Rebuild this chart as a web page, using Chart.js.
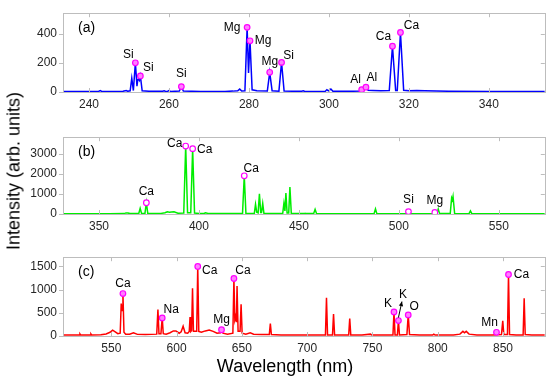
<!DOCTYPE html>
<html>
<head>
<meta charset="utf-8">
<script src="https://cdn.jsdelivr.net/npm/chart.js@4.4.1/dist/chart.umd.min.js"></script>
<style>
  body { margin: 0; background: #fff; }
  #wrap { position: relative; width: 550px; height: 380px; overflow: hidden; font-family: "Liberation Sans", Arial, sans-serif; }
  canvas { position: absolute; left: 0; }
  .title { position: absolute; color: #000; white-space: nowrap; font-size: 18px; }
</style>
</head>
<body>
<div id="wrap">
  <canvas id="panelA" width="550" height="112" style="top:0px"></canvas>
  <canvas id="panelB" width="550" height="110" style="top:124px"></canvas>
  <canvas id="panelC" width="550" height="112" style="top:244px"></canvas>
  <div class="title" id="yTitle" style="left:14px; top:171px; transform:translate(-50%,-50%) rotate(-90deg);">Intensity (arb. units)</div>
  <div class="title" id="xTitle" style="left:285px; top:366px; transform:translate(-50%,-50%);">Wavelength (nm)</div>
</div>
<script>

// panel (a) spectrum
const wlA = [233.5, 240, 242.4, 242.8, 243.2, 248.5, 249.3, 249.7, 250.3, 250.7,
    251.1, 251.6, 252.0, 252.2, 252.4, 252.6, 252.85, 253.3, 255, 258.4,
    258.8, 259.2, 259.7, 260.0, 260.4, 262.6, 263.1, 263.6, 268, 274,
    276, 277.2, 277.7, 278.2, 279.0, 279.55, 279.9, 280.27, 280.8, 282,
    284.6, 285.2, 285.8, 287.5, 288.16, 288.8, 291, 293.2, 293.6, 294,
    299.1, 299.5, 299.9, 300.5, 301, 306, 307.8, 308.2, 308.7, 309.27,
    309.8, 311, 313, 315.1, 315.9, 316.7, 317.1, 317.9, 318.7, 320,
    322, 324, 330, 340, 354];
const intA = [4, 4, 4, 10, 4, 5, 10, 5, 8, 95,
    10, 200, 40, 85, 90, 80, 110, 8, 5, 5,
    8, 4, 5, 9, 4, 6, 37, 6, 4, 4,
    6, 8, 20, 7, 8, 443, 130, 351, 15, 8,
    7, 135, 8, 6, 203, 7, 5, 5, 8, 4,
    5, 15, 8, 20, 5, 5, 7, 16, 10, 33,
    12, 11, 9, 10, 314, 10, 10, 408, 12, 8,
    10, 8, 5, 4, 4];
const peakWlA = [251.6, 252.85, 263.1, 279.55, 280.27, 285.2, 288.16, 308.2, 309.27, 315.9, 317.9];
const peakIntA = [200, 110, 37, 443, 351, 135, 203, 16, 33, 314, 408];
const peakNameA = ["Si", "Si", "Si", "Mg", "Mg", "Mg", "Si", "Al", "Al", "Ca", "Ca"];
const xTicksA = [240, 260, 280, 300, 320, 340];
const yTicksA = [0, 200, 400];

// panel (b) spectrum
const wlB = [332, 355, 362.5, 363.5, 364.5, 365.5, 369.9, 370.6, 371.3, 373.0,
    373.7, 374.4, 377, 381, 383, 384.2, 385.2, 386.3, 387.5, 389.5,
    392.4, 393.37, 394.3, 395.9, 396.85, 397.8, 400, 402.5, 403.3, 404.5,
    410, 421.8, 422.67, 423.5, 427.7, 428.3, 428.9, 429.6, 430.25, 430.9,
    431.3, 431.9, 432.5, 436, 441.9, 442.5, 443.0, 443.5, 444.1, 444.9,
    445.5, 446.2, 450, 452.6, 453.1, 453.6, 457.4, 458.1, 458.8, 465,
    487.6, 488.3, 489.0, 500, 510, 519.0, 519.7, 520.4, 525.7, 526.4,
    526.8, 527.1, 527.9, 535.1, 535.8, 536.5, 545, 573];
const intB = [15, 15, 20, 55, 45, 20, 25, 280, 30, 35,
    560, 35, 20, 30, 60, 110, 90, 105, 110, 40,
    45, 3380, 60, 60, 3250, 50, 25, 25, 60, 25,
    20, 25, 1900, 25, 30, 480, 90, 60, 1000, 70,
    70, 520, 30, 20, 30, 525, 150, 1040, 50, 50,
    1340, 30, 20, 20, 40, 20, 25, 230, 25, 15,
    15, 250, 15, 15, 15, 20, 250, 20, 25, 800,
    700, 870, 25, 15, 150, 15, 15, 15];
const peakWlB = [373.7, 393.37, 396.85, 422.67, 504.8, 518.0];
const peakIntB = [560, 3380, 3250, 1900, 120, 80];
const peakNameB = ["Ca", "Ca", "Ca", "Ca", "Si", "Mg"];
const xTicksB = [350, 400, 450, 500, 550];
const yTicksB = [0, 1000, 2000, 3000];

// panel (c) spectrum
const wlC = [513, 520, 525.4, 526, 526.6, 533.8, 534.4, 535, 542, 546,
    549, 551, 553, 555, 556.8, 557.6, 558.2, 558.9, 559.7, 561,
    564, 567, 570, 576, 584.8, 585.7, 586.5, 588.0, 588.99, 589.8,
    592, 595, 597.5, 599.5, 602, 603.5, 605, 606.5, 608.5, 609.7,
    610.3, 610.9, 611.5, 612.2, 612.9, 615.4, 616.2, 617.0, 619, 622,
    625, 628, 631, 633.5, 634.4, 635.5, 639, 643.1, 643.9, 644.6,
    645.2, 645.8, 646.3, 647.1, 648.6, 649.4, 650.2, 653, 656.4, 659,
    665, 671.0, 671.8, 672.6, 680, 700, 714.0, 714.8, 715.6, 719.4,
    720.2, 721.0, 731.8, 732.6, 733.4, 742, 748.5, 749.5, 758, 765.7,
    766.5, 767.3, 769.1, 769.9, 770.7, 776.4, 777.4, 778.4, 786, 796,
    797, 798, 812, 817, 819.3, 820.5, 821.8, 824, 830, 842,
    848.8, 849.8, 850.6, 853.4, 854.2, 855.0, 860, 865.4, 866.2, 867.0,
    872, 882];
const intC = [20, 20, 20, 45, 20, 20, 45, 20, 25, 45,
    80, 125, 90, 50, 60, 700, 550, 916, 80, 40,
    40, 70, 35, 30, 40, 570, 50, 50, 390, 50,
    40, 70, 110, 110, 60, 90, 210, 70, 60, 100,
    410, 100, 120, 1030, 100, 100, 1500, 100, 80, 110,
    130, 100, 60, 70, 135, 60, 40, 60, 1240, 350,
    420, 300, 1080, 100, 100, 685, 60, 40, 70, 40,
    30, 30, 270, 30, 20, 20, 20, 827, 20, 20,
    473, 20, 20, 377, 20, 20, 40, 20, 20, 20,
    520, 20, 20, 333, 20, 30, 455, 30, 20, 20,
    40, 20, 20, 40, 100, 70, 100, 40, 20, 20,
    30, 327, 30, 30, 1327, 30, 20, 20, 813, 30,
    20, 20];
const peakWlC = [558.9, 588.99, 616.2, 634.4, 643.9, 766.5, 769.9, 777.4, 845, 854.2];
const peakIntC = [916, 390, 1500, 135, 1240, 520, 333, 455, 80, 1327];
const peakNameC = ["Ca", "Na", "Ca", "Mg", "Ca", "K", "K", "O", "Mn", "Ca"];
const xTicksC = [550, 600, 650, 700, 750, 800, 850];
const yTicksC = [0, 500, 1000, 1500];

// label placement (pixel offsets from marker centre)
const offsetsA = [[-7, -8], [8, -8], [0, -13], [-15, 0], [13, 0], [0, -11], [7, -7], [-6, -10], [6, -9], [-9, -9], [11, -7]];
const offsetsB = [[0, -11], [-11, -2], [12, 1], [7, -7], [0, -12], [0, -12]];
const offsetsC = [[0, -10], [9, -8], [12, 4], [0, -10], [9, -8], [-6, -8], [4.5, -26], [6, -8], [-7, -10], [13, 0]];

const fontFam = "'Liberation Sans', Arial, sans-serif";
const boxColor = "#bdbdbd";

const decoPlugin = {
    id: "deco",
    afterDatasetsDraw(chart, args, opts) {
        const ctx = chart.ctx;
        const a = chart.chartArea;
        const xs = chart.scales.x;
        const ys = chart.scales.y;

        ctx.save();

        // box and tick marks
        ctx.strokeStyle = boxColor;
        ctx.lineWidth = 1;
        ctx.strokeRect(Math.round(a.left) + 0.5, Math.round(a.top) + 0.5,
            Math.round(a.right - a.left), Math.round(a.bottom - a.top));

        ctx.beginPath();
        xs.ticks.forEach(t => {
            const px = Math.round(xs.getPixelForValue(t.value)) + 0.5;
            ctx.moveTo(px, a.bottom);
            ctx.lineTo(px, a.bottom - 4);
            ctx.moveTo(px, a.top);
            ctx.lineTo(px, a.top + 4);
        });
        ys.ticks.forEach(t => {
            const py = Math.round(ys.getPixelForValue(t.value)) + 0.5;
            ctx.moveTo(a.left, py);
            ctx.lineTo(a.left - 4, py);
            ctx.moveTo(a.right, py);
            ctx.lineTo(a.right - 4, py);
        });
        ctx.stroke();

        // panel tag
        ctx.fillStyle = "#000";
        ctx.font = "14px " + fontFam;
        ctx.textAlign = "left";
        ctx.textBaseline = "middle";
        ctx.fillText(opts.tag, a.left + 15, a.top + 15);

        // peak names
        ctx.font = "12px " + fontFam;
        ctx.textAlign = "center";
        opts.names.forEach((n, i) => {
            const px = xs.getPixelForValue(opts.wl[i]);
            const py = ys.getPixelForValue(opts.val[i]);
            ctx.fillText(n, px + opts.offsets[i][0], py + opts.offsets[i][1]);
        });

        // arrow to a label
        if (opts.arrow !== undefined) {
            const i = opts.arrow;
            const px = xs.getPixelForValue(opts.wl[i]);
            const py = ys.getPixelForValue(opts.val[i]);
            const x0 = px, y0 = py - 3;
            const x1 = px + 3.5, y1 = py - 19;
            const ang = Math.atan2(y1 - y0, x1 - x0);
            ctx.strokeStyle = "#000";
            ctx.lineWidth = 1;
            ctx.beginPath();
            ctx.moveTo(x0, y0);
            ctx.lineTo(x1, y1);
            ctx.stroke();
            ctx.beginPath();
            ctx.moveTo(x1, y1);
            ctx.lineTo(x1 - 5 * Math.cos(ang - 0.45), y1 - 5 * Math.sin(ang - 0.45));
            ctx.lineTo(x1 - 5 * Math.cos(ang + 0.45), y1 - 5 * Math.sin(ang + 0.45));
            ctx.closePath();
            ctx.fillStyle = "#000";
            ctx.fill();
        }

        ctx.restore();
    }
};

function makePanel(id, wl, val, pWl, pVal, pNames, offsets, color, markerFill, xMin, xMax, xTicks, yMax, yTicks, tag, arrow) {

    const spectrum = wl.map((w, i) => ({ x: w, y: val[i] }));
    const peaks = pWl.map((w, i) => ({ x: w, y: pVal[i] }));

    return new Chart(document.getElementById(id), {
        type: "line",
        data: {
            datasets: [
                {
                    type: "scatter",
                    data: peaks,
                    pointRadius: 2.8,
                    pointBorderWidth: 1.2,
                    pointBorderColor: "#ff00ff",
                    pointBackgroundColor: markerFill,
                    showLine: false,
                    order: 0
                },
                {
                    data: spectrum,
                    borderColor: color,
                    borderWidth: 1.5,
                    pointRadius: 0,
                    fill: false,
                    tension: 0,
                    order: 1
                }
            ]
        },
        options: {
            responsive: false,
            animation: false,
            devicePixelRatio: 1,
            layout: { padding: { left: 0, right: 4, top: 4, bottom: 0 } },
            plugins: {
                legend: { display: false },
                tooltip: { enabled: false },
                deco: { tag: tag, names: pNames, wl: pWl, val: pVal, offsets: offsets, arrow: arrow }
            },
            scales: {
                x: {
                    type: "linear",
                    min: xMin,
                    max: xMax,
                    grid: { display: false, drawTicks: false },
                    border: { display: false },
                    afterBuildTicks: s => { s.ticks = xTicks.map(v => ({ value: v })); },
                    afterFit: s => { s.height = 20; },
                    ticks: {
                        color: "#262626",
                        padding: 5,
                        maxRotation: 0,
                        autoSkip: false,
                        callback: v => String(v),
                        font: { family: fontFam, size: 12 }
                    }
                },
                y: {
                    min: 0,
                    max: yMax,
                    grid: { display: false, drawTicks: false },
                    border: { display: false },
                    afterBuildTicks: s => { s.ticks = yTicks.map(v => ({ value: v })); },
                    afterFit: s => { s.width = 63; },
                    ticks: {
                        color: "#262626",
                        padding: 6,
                        callback: v => String(v),
                        font: { family: fontFam, size: 12 }
                    }
                }
            }
        },
        plugins: [decoPlugin]
    });
}

makePanel("panelA", wlA, intA, peakWlA, peakIntA, peakNameA, offsetsA, "#0000ff", "#ff80ff", 233.5, 354, xTicksA, 540, yTicksA, "(a)");
makePanel("panelB", wlB, intB, peakWlB, peakIntB, peakNameB, offsetsB, "#00ee00", "#ffffff", 332, 573, xTicksB, 3820, yTicksB, "(b)");
makePanel("panelC", wlC, intC, peakWlC, peakIntC, peakNameC, offsetsC, "#ff0000", "#ff80ff", 513, 882, xTicksC, 1700, yTicksC, "(c)", 6);

</script>
</body>
</html>
